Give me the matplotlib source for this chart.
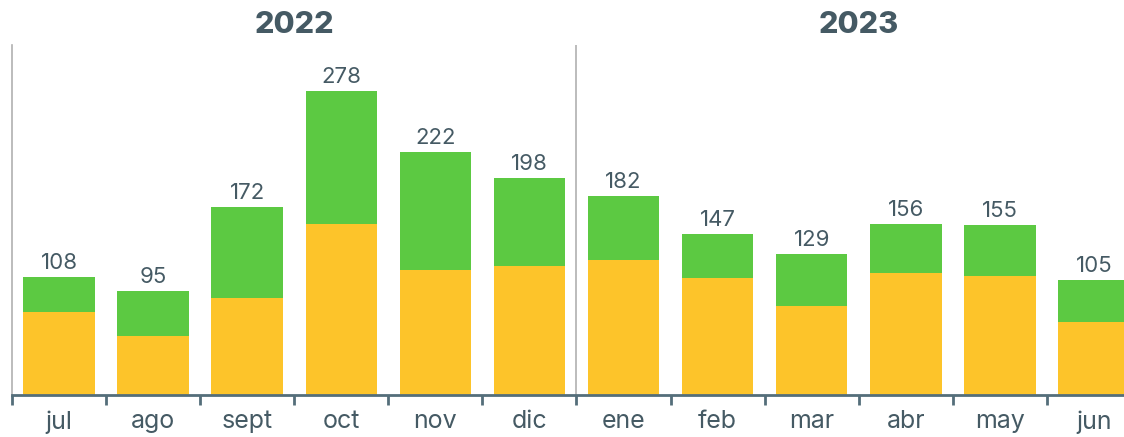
import matplotlib
matplotlib.use("Agg")
import matplotlib.pyplot as plt
import numpy as np

months = ["jul", "ago", "sept", "oct", "nov", "dic", "ene", "feb", "mar", "abr", "may", "jun"]
totals = [108, 95, 172, 278, 222, 198, 182, 147, 129, 156, 155, 105]
yellow = [76, 54, 89, 156, 114, 118, 123, 107, 81, 112, 109, 67]
green = [t - y for t, y in zip(totals, yellow)]
years = ["2022", "2023"]

YELLOW = "#FDC42A"
GREEN = "#5CC942"
TEXT = "#455A64"
AXIS = "#546E7A"
GRAY = "#B0B0B0"

plt.rcParams['font.family'] = ['Inter', 'DejaVu Sans']

W, H = 1124, 437
fig = plt.figure(figsize=(W / 100, H / 100), dpi=100)
left_px, right_px, bottom_px, top_px = 12, 1141, 395, 45
ax = fig.add_axes([left_px / W, 1 - bottom_px / H, (right_px - left_px) / W, (bottom_px - top_px) / H])

x = np.arange(len(months))
ax.bar(x, yellow, width=0.76, color=YELLOW, linewidth=0)
ax.bar(x, green, bottom=yellow, width=0.76, color=GREEN, linewidth=0)

for xi, t in zip(x, totals):
    ax.annotate(str(t), (xi, t), xytext=(0, 6), textcoords="offset points",
                ha="center", va="baseline", fontsize=16, color=TEXT)

ax.set_xlim(-0.5, len(months) - 0.5)
ax.set_ylim(0, 320)
ax.set_yticks([])

ax.set_xticks(x)
ax.set_xticklabels(months, fontsize=18, color=TEXT)
ax.tick_params(axis="x", which="major", length=0, pad=11)
ax.set_xticks(np.arange(-0.5, len(months), 1.0), minor=True)
ax.tick_params(axis="x", which="minor", length=7.5, width=2, color=AXIS, direction="out")

for s in ["top", "right"]:
    ax.spines[s].set_visible(False)
ax.spines["bottom"].set_color(AXIS)
ax.spines["bottom"].set_linewidth(2)
ax.spines["left"].set_color(GRAY)
ax.spines["left"].set_linewidth(1.2)

ax.axvline(5.5, color=GRAY, linewidth=1.2, ymin=0, ymax=1)

ty = 1.0 + 20 / (bottom_px - top_px)
ax.text(2.5, ty, years[0], transform=ax.get_xaxis_transform(),
        ha="center", va="center", fontsize=22, fontweight="heavy", color=TEXT)
ax.text(8.5, ty, years[1], transform=ax.get_xaxis_transform(),
        ha="center", va="center", fontsize=22, fontweight="heavy", color=TEXT)

fig.savefig("out.png", dpi=100)
